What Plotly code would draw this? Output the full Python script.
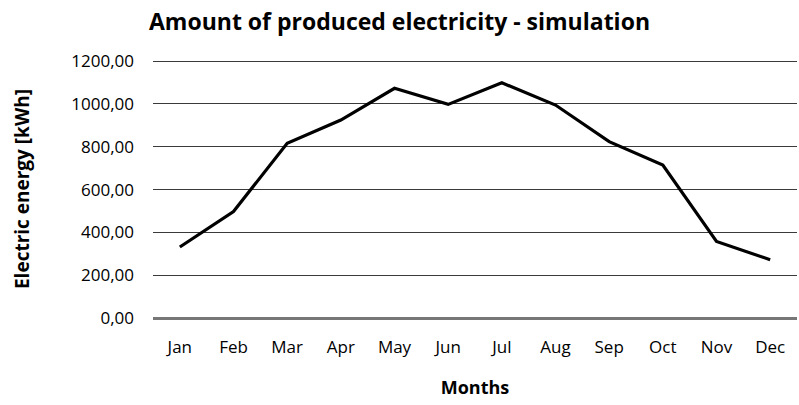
import plotly.graph_objects as go

months = ["Jan", "Feb", "Mar", "Apr", "May", "Jun", "Jul", "Aug", "Sep", "Oct", "Nov", "Dec"]
energy = [332, 498, 816, 925, 1073, 998, 1099, 995, 824, 715, 358, 273]
y_ticks = [0, 200, 400, 600, 800, 1000, 1200]

fig = go.Figure()
fig.add_trace(go.Scatter(x=months, y=energy, mode="lines",
                         line=dict(color="black", width=3.2)))

font_family = "Open Sans, Liberation Sans, sans-serif"
fig.update_layout(
    width=799, height=405,
    margin=dict(l=153, r=2, t=59, b=86),
    paper_bgcolor="white", plot_bgcolor="white",
    separators=",.",
    showlegend=False,
    title=dict(text="<b>Amount of produced electricity - simulation</b>",
               x=0.5, xanchor="center", y=0.945, yanchor="middle",
               font=dict(family=font_family, size=23, color="black")),
    font=dict(family=font_family, color="black"),
)
fig.update_xaxes(
    type="category", range=[-0.5, 11.5],
    showgrid=False, showline=False, ticks="",
    tickfont=dict(size=17, color="black"),
    ticklabelstandoff=16,
    title=dict(text="<b>Months</b>", font=dict(size=18, color="black"), standoff=24),
)
fig.update_yaxes(
    range=[-4, 1210], tickvals=y_ticks, tickformat=".2f",
    showgrid=True, gridcolor="#3a3a3a", gridwidth=1,
    zeroline=True, zerolinecolor="#777", zerolinewidth=2.5,
    showline=False, ticks="",
    tickfont=dict(size=17, color="black"),
    ticklabelstandoff=18,
    title=dict(text="<b>Electric energy [kWh]</b>", font=dict(size=19, color="black"), standoff=36),
)

fig.write_html("out.html")
